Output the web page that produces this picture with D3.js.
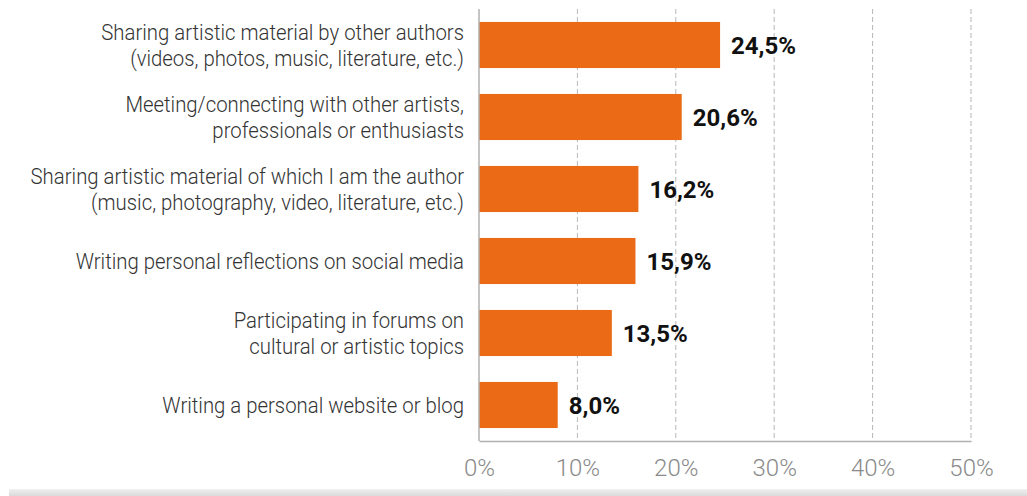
<!DOCTYPE html>
<html>
<head>
<meta charset="utf-8">
<script src="https://cdn.jsdelivr.net/npm/d3@7"></script>
<style>
  html, body { margin: 0; padding: 0; background: #fff; }
  svg { display: block; }
  text { font-family: Roboto, "Noto Sans", sans-serif; }
</style>
</head>
<body>
<svg id="chart" width="1027" height="496"></svg>
<script>
// Online artistic activities, share of respondents
const categories = [
  ["Sharing artistic material by other authors", "(videos, photos, music, literature, etc.)"],
  ["Meeting/connecting with other artists,", "professionals or enthusiasts"],
  ["Sharing artistic material of which I am the author", "(music, photography, video, literature, etc.)"],
  ["Writing personal reflections on social media"],
  ["Participating in forums on", "cultural or artistic topics"],
  ["Writing a personal website or blog"]
];
const values = [24.5, 20.6, 16.2, 15.9, 13.5, 8.0];
const tickValues = [0, 10, 20, 30, 40, 50];

const svg = d3.select("#chart");
const W = 1027, H = 496;
const plotLeft = 479, plotRight = 971, plotTop = 9, plotBottom = 441;
const condense = 0.885; // narrow letterforms for the category labels

const x = d3.scaleLinear().domain([0, 50]).range([plotLeft, plotRight]);
const y = d3.scaleBand()
  .domain(d3.range(values.length))
  .range([plotTop, plotBottom])
  .paddingInner(0.36)
  .paddingOuter(0.18);

// bottom shaded strip
const grad = svg.append("defs").append("linearGradient")
  .attr("id", "strip").attr("x1", 0).attr("y1", 0).attr("x2", 0).attr("y2", 1);
grad.append("stop").attr("offset", "0%").attr("stop-color", "#f0f0f0");
grad.append("stop").attr("offset", "100%").attr("stop-color", "#dadada");
svg.append("rect").attr("x", 9).attr("y", 489).attr("width", W - 9).attr("height", H - 489)
  .attr("fill", "url(#strip)");

// dashed vertical gridlines
svg.append("g").selectAll("line")
  .data(tickValues.slice(1))
  .join("line")
  .attr("x1", d => x(d)).attr("x2", d => x(d))
  .attr("y1", plotTop).attr("y2", plotBottom)
  .attr("stroke", "#b8b8b8").attr("stroke-width", 1)
  .attr("stroke-dasharray", "5,3");

// x axis
const xAxis = svg.append("g")
  .attr("transform", `translate(0,${plotBottom})`)
  .call(d3.axisBottom(x).tickValues(tickValues).tickSize(0).tickPadding(18)
    .tickFormat(d => d + "%"));
xAxis.select(".domain").attr("stroke", "#b0b0b0").attr("stroke-width", 1.5);
xAxis.selectAll("text")
  .attr("fill", "#8a8a8a")
  .style("font-size", "24px")
  .style("font-weight", 300);

// bars
svg.append("g").selectAll("rect")
  .data(values)
  .join("rect")
  .attr("x", x(0))
  .attr("y", (d, i) => y(i))
  .attr("width", d => x(d) - x(0))
  .attr("height", y.bandwidth())
  .attr("fill", "#ea6a16");

// y axis line
svg.append("line")
  .attr("x1", x(0)).attr("x2", x(0))
  .attr("y1", plotTop).attr("y2", plotBottom)
  .attr("stroke", "#b0b0b0").attr("stroke-width", 1.5);

// category labels
const lineH = 26;
svg.append("g").selectAll("text")
  .data(categories)
  .join("text")
  .attr("text-anchor", "end")
  .attr("transform", `translate(464,0) scale(${condense},1)`)
  .attr("fill", "#333")
  .style("font-size", "23px")
  .style("font-weight", 300)
  .each(function (lines, i) {
    const cy = y(i) + y.bandwidth() / 2;
    const y0 = cy - (lines.length - 1) * lineH / 2;
    d3.select(this).selectAll("tspan")
      .data(lines)
      .join("tspan")
      .attr("x", 0)
      .attr("y", (d, j) => y0 + j * lineH)
      .attr("dy", "0.35em")
      .text(d => d);
  });

// value labels
const fmt = v => v.toFixed(1).replace(".", ",") + "%";
svg.append("g").selectAll("text")
  .data(values)
  .join("text")
  .attr("x", d => x(d) + 11)
  .attr("y", (d, i) => y(i) + y.bandwidth() / 2)
  .attr("dy", "0.36em")
  .attr("fill", "#111")
  .style("font-size", "24px")
  .style("font-weight", 700)
  .text(fmt);
</script>
</body>
</html>
